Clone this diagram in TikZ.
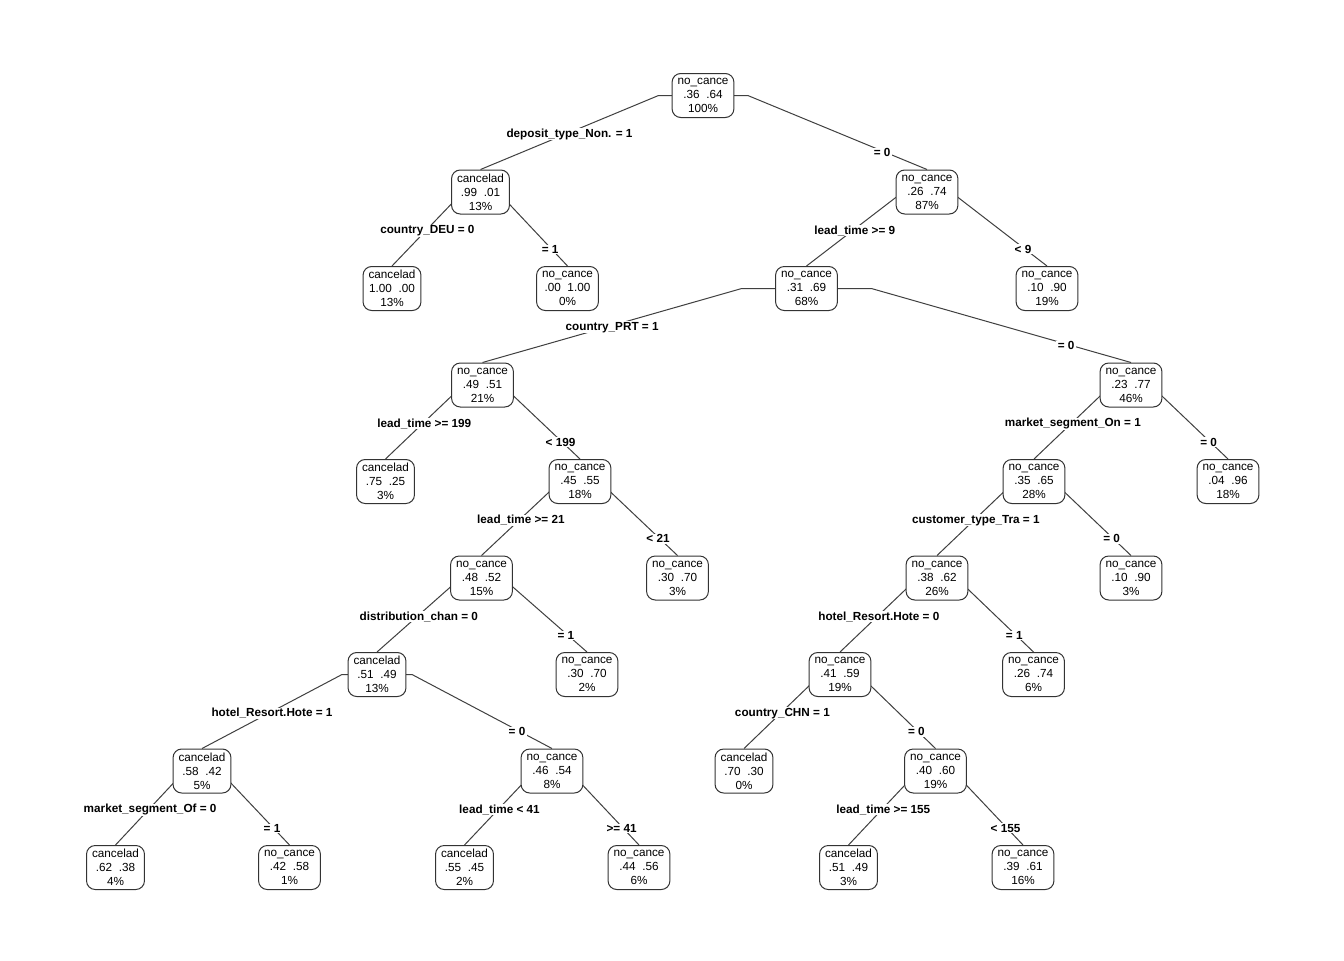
\documentclass[tikz,border=0pt]{standalone}
\usepackage{fontspec}
\setmainfont{Liberation Sans}
\usetikzlibrary{calc,backgrounds}
\tikzset{
  tbox/.style={draw=black!80, line width=0.75pt, rounded corners=6.5pt, fill=white,
    minimum height=33pt, inner xsep=4.1pt, inner ysep=1pt, align=center,
    font=\fontsize{8.8}{10.5}\selectfont},
  lab/.style={fill=white, inner xsep=1pt, inner ysep=0.5pt, yshift=-1.3pt,
    font=\bfseries\fontsize{8.8}{10.5}\selectfont},
  branch/.style={draw=black!75, line width=0.75pt}
}
\newcommand\br[4]{%
  \draw[branch] let \p1=(#1.center), \p2=(#2.north) in
    (\p1) -- ({\x1+0.2*(\x2-\x1)},\y1) -- node[lab,pos=#3]{#4} (\p2);}
\begin{document}
\begin{tikzpicture}[x=0.75pt,y=-0.75pt]
\useasboundingbox (0,0) rectangle (1344,960);
% nodes
\node[tbox] (n0) at (703,95.5) {no\_cance\\.36\ \ .64\\100\%};
\node[tbox] (n1) at (480.5,192) {cancelad\\.99\ \ .01\\13\%};
\node[tbox] (n2) at (927,192) {no\_cance\\.26\ \ .74\\87\%};
\node[tbox] (n3) at (392,288.5) {cancelad\\1.00\ \ .00\\13\%};
\node[tbox] (n4) at (567.5,288.5) {no\_cance\\.00\ \ 1.00\\0\%};
\node[tbox] (n5) at (806.5,288.5) {no\_cance\\.31\ \ .69\\68\%};
\node[tbox] (n6) at (1047,288.5) {no\_cance\\.10\ \ .90\\19\%};
\node[tbox] (n7) at (482.5,385) {no\_cance\\.49\ \ .51\\21\%};
\node[tbox] (n8) at (1131,385) {no\_cance\\.23\ \ .77\\46\%};
\node[tbox] (n9) at (385.5,481.5) {cancelad\\.75\ \ .25\\3\%};
\node[tbox] (n10) at (580,481.5) {no\_cance\\.45\ \ .55\\18\%};
\node[tbox] (n11) at (1034,481.5) {no\_cance\\.35\ \ .65\\28\%};
\node[tbox] (n12) at (1228,481.5) {no\_cance\\.04\ \ .96\\18\%};
\node[tbox] (n13) at (481.5,578) {no\_cance\\.48\ \ .52\\15\%};
\node[tbox] (n14) at (677.5,578) {no\_cance\\.30\ \ .70\\3\%};
\node[tbox] (n15) at (937,578) {no\_cance\\.38\ \ .62\\26\%};
\node[tbox] (n16) at (1131,578) {no\_cance\\.10\ \ .90\\3\%};
\node[tbox] (n17) at (377,674.5) {cancelad\\.51\ \ .49\\13\%};
\node[tbox] (n18) at (587,674.5) {no\_cance\\.30\ \ .70\\2\%};
\node[tbox] (n19) at (840,674.5) {no\_cance\\.41\ \ .59\\19\%};
\node[tbox] (n20) at (1033.5,674.5) {no\_cance\\.26\ \ .74\\6\%};
\node[tbox] (n21) at (202,771) {cancelad\\.58\ \ .42\\5\%};
\node[tbox] (n22) at (552,771) {no\_cance\\.46\ \ .54\\8\%};
\node[tbox] (n23) at (744,771) {cancelad\\.70\ \ .30\\0\%};
\node[tbox] (n24) at (935.5,771) {no\_cance\\.40\ \ .60\\19\%};
\node[tbox] (n25) at (115.5,867.5) {cancelad\\.62\ \ .38\\4\%};
\node[tbox] (n26) at (289.5,867.5) {no\_cance\\.42\ \ .58\\1\%};
\node[tbox] (n27) at (464.5,867.5) {cancelad\\.55\ \ .45\\2\%};
\node[tbox] (n28) at (639,867.5) {no\_cance\\.44\ \ .56\\6\%};
\node[tbox] (n29) at (848.5,867.5) {cancelad\\.51\ \ .49\\3\%};
\node[tbox] (n30) at (1023,867.5) {no\_cance\\.39\ \ .61\\16\%};
\begin{pgfonlayer}{background}
\fill[white] (0,0) rectangle (1344,960);
\br{n0}{n1}{0.5}{deposit\_type\_Non. = 1}
\br{n0}{n2}{0.75}{= 0}
\br{n1}{n3}{0.5}{country\_DEU = 0}
\br{n1}{n4}{0.75}{= 1}
\br{n2}{n5}{0.5}{lead\_time >= 9}
\br{n2}{n6}{0.75}{< 9}
\br{n5}{n7}{0.5}{country\_PRT = 1}
\br{n5}{n8}{0.75}{= 0}
\br{n7}{n9}{0.5}{lead\_time >= 199}
\br{n7}{n10}{0.75}{< 199}
\br{n8}{n11}{0.5}{market\_segment\_On = 1}
\br{n8}{n12}{0.75}{= 0}
\br{n10}{n13}{0.5}{lead\_time >= 21}
\br{n10}{n14}{0.75}{< 21}
\br{n11}{n15}{0.5}{customer\_type\_Tra = 1}
\br{n11}{n16}{0.75}{= 0}
\br{n13}{n17}{0.5}{distribution\_chan = 0}
\br{n13}{n18}{0.75}{= 1}
\br{n15}{n19}{0.5}{hotel\_Resort.Hote = 0}
\br{n15}{n20}{0.75}{= 1}
\br{n17}{n21}{0.5}{hotel\_Resort.Hote = 1}
\br{n17}{n22}{0.75}{= 0}
\br{n19}{n23}{0.5}{country\_CHN = 1}
\br{n19}{n24}{0.75}{= 0}
\br{n21}{n25}{0.5}{market\_segment\_Of = 0}
\br{n21}{n26}{0.75}{= 1}
\br{n22}{n27}{0.5}{lead\_time < 41}
\br{n22}{n28}{0.75}{>= 41}
\br{n24}{n29}{0.5}{lead\_time >= 155}
\br{n24}{n30}{0.75}{< 155}
\end{pgfonlayer}
\end{tikzpicture}
\end{document}
